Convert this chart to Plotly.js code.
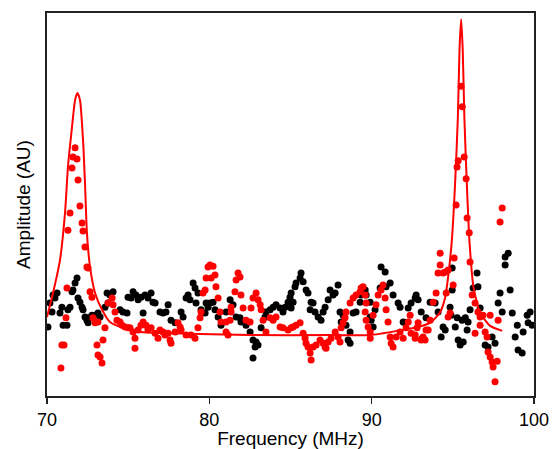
<!DOCTYPE html>
<html>
<head>
<meta charset="utf-8">
<script src="https://cdn.plot.ly/plotly-3.0.1.min.js"></script>
<style>html,body{margin:0;padding:0;background:#fff;}#chart{width:552px;height:449px;}</style>
</head>
<body>
<div id="chart"></div>
<script>
// Black measured points (frequency MHz, amplitude AU)
const blackFreq = [70.06,70.18,70.37,70.62,70.49,70.31,70.92,70.80,70.99,71.23,71.29,71.42,71.60,71.73,71.85,71.54,71.91,72.03,72.16,72.22,72.34,72.46,72.53,72.53,72.77,72.96,73.14,73.27,73.70,73.88,74.07,73.57,73.76,74.50,74.68,74.93,74.99,
75.30,75.48,75.18,75.61,75.79,76.04,76.22,76.41,76.53,76.66,75.92,76.96,77.15,77.33,77.46,77.64,77.89,78.26,78.38,78.57,78.69,78.81,79.00,79.12,79.30,79.18,79.49,79.74,79.80,79.92,
80.04,80.23,80.35,80.54,80.72,81.03,81.28,81.46,81.65,81.89,81.95,82.26,82.51,82.69,82.88,83.00,82.82,82.69,83.19,83.43,83.49,83.74,83.93,84.11,84.36,84.54,84.67,84.85,84.97,85.04,
85.65,85.59,85.78,85.34,85.28,85.96,86.08,85.16,85.04,86.27,86.39,86.21,86.51,86.70,86.88,87.01,87.13,87.32,87.44,87.75,87.93,87.62,88.05,88.24,88.12,88.42,88.67,88.55,88.67,88.86,89.04,89.29,89.35,89.60,89.66,89.91,
90.58,90.83,91.14,90.89,91.32,90.52,89.91,90.21,89.97,90.09,91.63,91.75,92.06,91.94,92.25,92.43,92.68,92.74,92.86,93.05,93.35,93.60,93.91,94.09,94.40,94.53,94.28,94.83,94.89,
94.96,94.96,95.27,95.57,95.77,95.94,95.15,95.88,95.33,95.45,95.64,96.49,96.55,96.25,96.06,96.68,96.99,97.17,97.42,97.60,97.91,97.79,98.04,98.22,98.41,98.22,98.53,98.66,98.97,98.84,99.33,99.02,99.27,99.58,99.76,99.64,99.89];
const blackAmp = [18.0,24.3,26.4,26.9,25.6,21.9,23.2,21.7,18.5,18.5,22.5,23.2,27.7,29.5,30.8,27.2,25.6,24.5,23.2,22.5,20.6,19.8,20.4,19.1,21.1,21.1,21.7,20.6,26.9,26.4,27.2,23.2,24.3,22.5,21.9,21.7,25.8,
27.2,26.4,25.6,25.1,25.8,26.4,25.6,26.9,24.5,24.3,21.7,21.9,21.7,21.9,23.8,19.8,19.1,21.9,20.6,25.6,26.4,25.1,29.5,28.2,26.9,24.3,22.5,21.7,24.3,23.2,
24.3,24.5,22.5,20.6,18.5,21.9,25.1,23.8,20.6,20.4,19.3,18.5,16.7,14.6,14.1,13.3,12.8,9.9,17.8,20.6,21.9,22.5,23.2,23.8,23.0,21.9,23.2,24.5,25.8,26.9,
32.1,30.8,29.8,29.5,28.5,27.7,26.9,24.5,23.0,24.5,24.3,22.5,21.9,20.6,19.8,21.9,23.2,25.1,27.7,26.9,29.0,26.4,21.9,21.1,19.3,18.5,16.7,14.6,13.8,21.7,21.9,24.5,26.4,27.7,26.4,20.6,
33.7,32.4,29.5,28.5,26.4,28.2,24.5,22.5,19.8,18.0,24.3,23.2,19.1,19.3,23.0,24.3,25.6,26.4,25.1,21.9,20.4,24.5,24.3,21.9,18.0,17.2,15.4,23.2,21.1,
33.4,27.7,20.4,19.8,20.4,19.3,18.0,17.2,14.6,13.3,14.1,32.1,28.5,28.2,22.5,23.0,13.3,12.8,15.4,13.8,26.9,24.3,21.9,36.3,37.3,34.2,27.7,21.7,18.5,15.4,16.7,12.0,11.2,21.1,21.9,19.1,18.5];

// Red measured points
const redFreq = [70.86,70.92,71.05,71.17,71.23,71.29,71.42,71.54,71.60,71.73,71.85,71.91,72.03,72.16,72.22,72.34,72.46,72.53,72.65,72.77,72.83,72.96,73.14,73.08,73.14,73.27,73.39,73.45,73.57,73.76,74.01,74.07,74.31,74.19,74.50,74.62,74.81,74.99,
75.11,75.30,75.42,75.42,75.61,75.79,75.92,76.10,76.22,76.41,76.66,76.84,76.96,77.15,77.27,77.46,77.58,77.64,77.89,78.07,78.20,78.26,78.57,78.87,79.12,79.30,79.43,79.49,79.61,79.74,79.80,79.92,80.04,
80.23,80.35,80.11,80.41,80.54,80.66,80.72,81.03,81.15,81.03,81.28,81.34,81.34,81.58,81.65,81.77,81.89,81.95,82.08,82.26,82.51,82.57,82.69,82.88,83.00,83.13,83.19,83.31,83.49,83.74,83.93,84.11,84.36,84.54,84.85,85.04,
85.16,85.34,85.59,85.78,85.90,85.96,86.08,86.21,86.27,86.39,86.58,86.82,87.01,87.13,87.19,87.32,87.50,87.75,87.93,88.05,88.12,88.24,88.36,88.42,88.67,88.86,89.04,89.29,89.35,89.47,89.60,89.66,89.60,89.66,89.78,89.91,
89.91,90.09,90.27,90.40,90.58,90.70,90.83,90.89,91.01,91.14,91.20,91.32,91.51,91.75,91.94,92.12,92.25,92.37,92.43,92.68,92.86,93.05,93.17,93.35,93.60,93.79,93.97,94.09,94.22,94.22,94.53,94.71,94.59,94.40,95.02,95.08,94.83,94.71,92.80,92.68,93.11,93.29,93.48,
95.20,95.26,95.33,95.51,95.58,95.70,95.82,95.88,96.01,96.06,96.19,96.37,96.55,96.68,96.86,97.30,97.79,96.37,96.68,96.99,97.11,97.17,97.30,97.42,97.73,97.48,97.60,98.04,97.91];
const redAmp = [7.3,13.3,13.3,20.4,28.2,43.3,47.8,59.5,62.4,64.8,61.9,56.4,49.6,45.2,43.1,38.9,33.7,33.4,27.2,25.8,20.4,19.1,19.3,13.3,10.7,10.2,8.6,14.6,17.8,24.3,25.6,23.8,19.8,21.9,19.3,18.5,18.0,17.8,
17.8,16.7,15.1,12.5,17.2,18.5,19.3,18.5,17.2,17.8,16.4,15.1,17.2,16.7,15.9,16.4,14.6,13.8,16.7,19.1,18.0,17.2,15.9,15.9,15.1,17.8,20.4,21.9,26.9,27.7,30.8,33.7,34.2,
33.9,31.6,30.8,28.5,25.6,21.9,19.3,16.7,15.9,19.3,19.8,23.2,21.9,27.2,30.3,32.1,31.1,26.4,23.0,19.8,19.3,23.0,25.6,26.9,25.1,23.8,22.5,19.8,16.7,20.4,19.8,20.6,18.0,17.8,17.2,17.8,
18.0,18.5,19.1,16.4,15.1,13.8,12.8,11.2,9.4,12.8,13.3,14.6,13.8,12.8,12.5,14.1,15.1,16.7,15.4,14.1,17.8,19.1,20.4,21.9,24.3,25.6,26.4,27.2,28.2,28.5,26.4,24.3,21.9,19.8,18.0,16.7,
15.1,21.1,23.8,26.4,27.7,29.0,25.6,22.5,19.3,15.4,13.8,12.8,15.4,16.7,15.1,17.8,19.3,21.1,16.4,15.1,19.1,14.6,15.4,17.2,19.8,24.5,26.9,32.1,34.2,37.3,32.4,32.9,26.9,32.1,29.0,36.0,21.7,20.6,17.8,15.9,15.1,14.6,17.2,
49.9,59.8,61.4,80.9,75.5,62.4,56.7,46.5,42.6,35.0,26.4,24.3,21.9,20.6,21.1,21.1,19.8,16.4,18.5,16.7,15.4,11.5,10.2,8.9,9.1,7.6,3.7,49.1,45.4];

// Fitted curve
const fitFreq = [70.00,70.37,70.80,71.11,71.29,71.54,71.73,71.87,72.03,72.22,72.34,72.46,72.65,72.96,73.39,73.88,74.68,75.73,77.58,82.51,87.44,89.91,91.82,92.86,93.66,94.22,94.53,94.71,94.94,95.14,95.31,95.41,95.51,95.61,95.71,95.86,96.02,96.27,96.68,97.30,98.04];
const fitAmp = [20.6,26.9,35.5,47.8,59.8,70.2,77.3,79.1,77.3,66.8,55.6,42.6,33.7,26.9,22.5,19.3,17.8,16.7,16.4,15.9,15.9,15.9,17.2,18.0,19.3,21.9,25.8,31.1,40.7,55.6,72.8,90.3,98.4,90.3,72.8,55.6,40.7,28.5,21.7,18.3,17.0];

const xTicks = [70, 80, 90, 100];

const traces = [
  {x: blackFreq, y: blackAmp, mode: 'markers', type: 'scatter',
   marker: {color: '#000000', size: 7}, hoverinfo: 'skip'},
  {x: redFreq, y: redAmp, mode: 'markers', type: 'scatter',
   marker: {color: '#ff0000', size: 7}, hoverinfo: 'skip'},
  {x: fitFreq, y: fitAmp, mode: 'lines', type: 'scatter',
   line: {color: '#ff0000', width: 2, shape: 'spline', smoothing: 0.6}, hoverinfo: 'skip'}
];

const layout = {
  width: 552, height: 449,
  margin: {l: 47, r: 18, t: 13, b: 53},
  paper_bgcolor: '#ffffff', plot_bgcolor: '#ffffff',
  showlegend: false,
  font: {family: 'Liberation Sans, Arial, sans-serif', color: '#000000', size: 18},
  xaxis: {
    range: [70, 100], tickvals: xTicks, ticktext: xTicks.map(String),
    ticks: 'outside', ticklen: 6, tickwidth: 1.5, tickcolor: '#222',
    showline: true, linecolor: '#222', linewidth: 2, mirror: true,
    showgrid: false, zeroline: false,
    tickfont: {size: 18},
    title: {text: 'Frequency (MHz)', font: {size: 19}, standoff: 3}
  },
  yaxis: {
    range: [0, 100], showticklabels: false, ticks: '',
    showline: true, linecolor: '#222', linewidth: 2, mirror: true,
    showgrid: false, zeroline: false,
    title: {text: 'Amplitude (AU)', font: {size: 19}, standoff: 9}
  }
};

Plotly.newPlot('chart', traces, layout, {staticPlot: true, displayModeBar: false});
</script>
</body>
</html>
